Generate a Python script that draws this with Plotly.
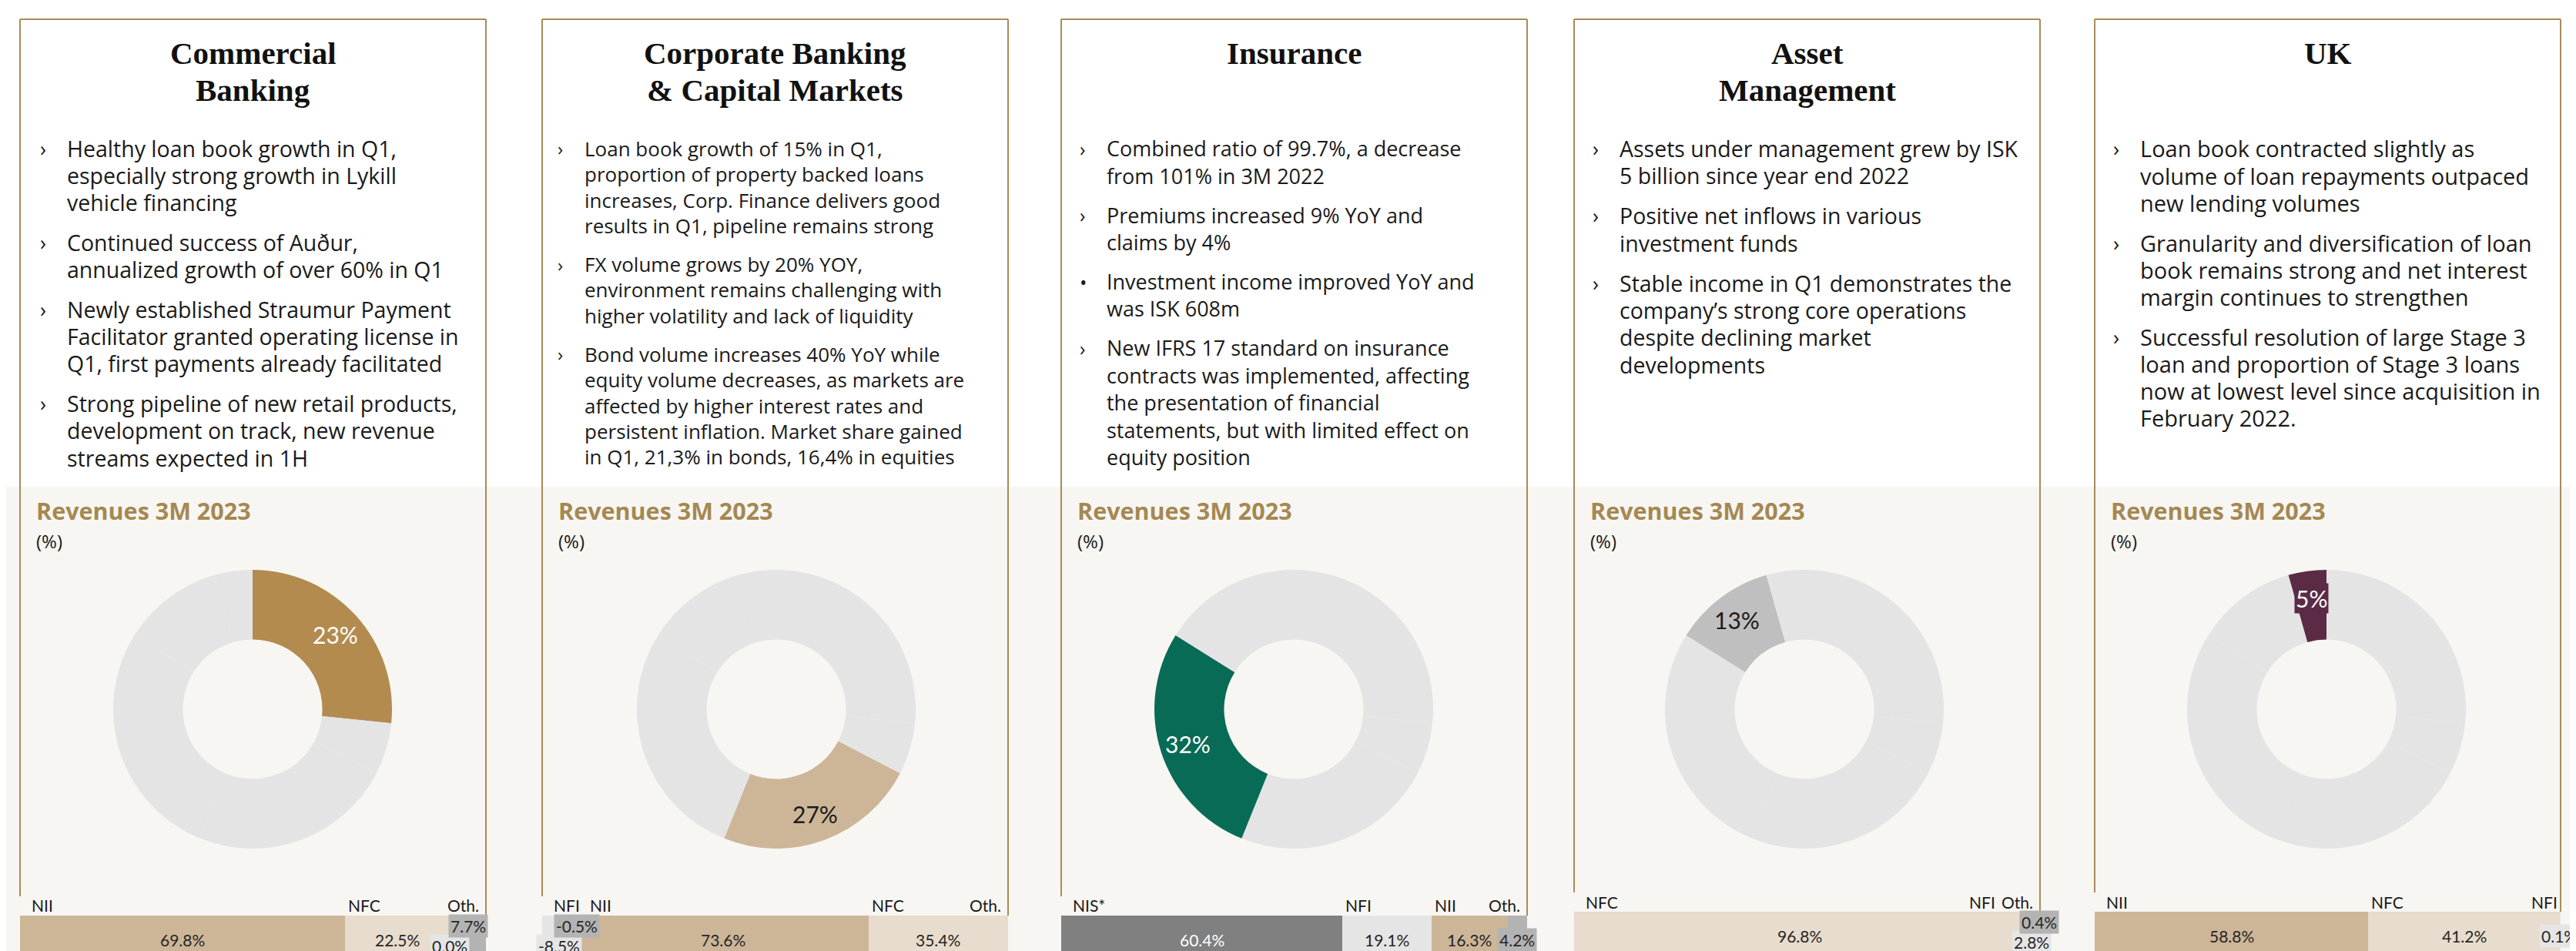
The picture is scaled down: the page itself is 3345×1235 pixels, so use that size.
import math
import plotly.graph_objects as go

W, H = 3345, 1235

# ---- data ----
titles = [
    ["Commercial", "Banking"],
    ["Corporate Banking", "& Capital Markets"],
    ["Insurance"],
    ["Asset", "Management"],
    ["UK"],
]

bullets_commercial = [
    ["Healthy loan book growth in Q1,", "especially strong growth in Lykill", "vehicle financing"],
    ["Continued success of Auður,", "annualized growth of over 60% in Q1"],
    ["Newly established Straumur Payment", "Facilitator granted operating license in",
     "Q1, first payments already facilitated"],
    ["Strong pipeline of new retail products,", "development on track, new revenue",
     "streams expected in 1H"],
]
bullets_corporate = [
    ["Loan book growth of 15% in Q1,", "proportion of property backed loans",
     "increases, Corp. Finance delivers good", "results in Q1, pipeline remains strong"],
    ["FX volume grows by 20% YOY,", "environment remains challenging with",
     "higher volatility and lack of liquidity"],
    ["Bond volume increases 40% YoY while", "equity volume decreases, as markets are",
     "affected by higher interest rates and", "persistent inflation. Market share gained",
     "in Q1, 21,3% in bonds, 16,4% in equities"],
]
bullets_insurance = [
    ["Combined ratio of 99.7%, a decrease", "from 101% in 3M 2022"],
    ["Premiums increased 9% YoY and", "claims by 4%"],
    ["Investment income improved YoY and", "was ISK 608m"],
    ["New IFRS 17 standard on insurance", "contracts was implemented, affecting",
     "the presentation of financial", "statements, but with limited effect on",
     "equity position"],
]
bullets_asset = [
    ["Assets under management grew by ISK", "5 billion since year end 2022"],
    ["Positive net inflows in various", "investment funds"],
    ["Stable income in Q1 demonstrates the", "company\u2019s strong core operations",
     "despite declining market", "developments"],
]
bullets_uk = [
    ["Loan book contracted slightly as", "volume of loan repayments outpaced",
     "new lending volumes"],
    ["Granularity and diversification of loan", "book remains strong and net interest",
     "margin continues to strengthen"],
    ["Successful resolution of large Stage 3", "loan and proportion of Stage 3 loans",
     "now at lowest level since acquisition in", "February 2022."],
]
bullet_marks = [
    ["›", "›", "›", "›"],
    ["›", "›", "›"],
    ["›", "›", "•", "›"],
    ["›", "›", "›"],
    ["›", "›", "›"],
]

# revenue share donut (slices in drawing order, clockwise from 12 o'clock)
pie_segments = ["Commercial Banking", "Other", "Corporate Banking & CM",
                "Insurance", "Asset Management", "UK"]
pie_values = [26.6, 6.0, 23.5, 27.8, 11.7, 4.4]
pie_labels = ["23%", "27%", "32%", "13%", "5%"]
pie_highlight = [0, 2, 3, 4, 5]

# revenue split bars
bar_cats_commercial = ["NII", "NFC", "NFI", "Oth."]
bar_vals_commercial = [69.8, 22.5, 0.0, 7.7]
bar_cats_corporate = ["NFI", "NII", "NFC", "Oth."]
bar_vals_corporate = [-8.5, 73.6, 35.4, -0.5]
bar_cats_insurance = ["NIS*", "NFI", "NII", "Oth."]
bar_vals_insurance = [60.4, 19.1, 16.3, 4.2]
bar_cats_asset = ["NFC", "NFI", "Oth."]
bar_vals_asset = [96.8, 2.8, 0.4]
bar_cats_uk = ["NII", "NFC", "NFI"]
bar_vals_uk = [58.8, 41.2, 0.1]

# ---- styling ----
GOLD = "#a98b5a"
BAND = "#f7f6f2"
TXT = "#1a1a1a"
SANS = "Lato, 'Noto Sans', sans-serif"
BODY = "'Open Sans', 'Noto Sans', sans-serif"
SERIF = "'Liberation Serif', 'DejaVu Serif', serif"

cat_colors = {"NII": "#cdb697", "NFC": "#e7dccd", "NFI": "#e5e5e5",
              "Oth.": "#b3b3b3", "NIS*": "#808080"}
pie_colors = ["#b38b4f", "#cdb697", "#086b55", "#bfbfbf", "#5b2b46"]
pie_text_colors = ["white", TXT, "white", TXT, "white"]
PIE_REST = "#e4e4e4"

panel_left = [18, 696, 1370, 2036, 2712]
panel_w = 605
bar_top = [1181, 1181, 1181, 1176, 1176]
cat_label_y = [1167, 1167, 1167, 1163, 1163]
line_pitch = [35.2, 33.4, 35.4, 35.4, 35.2]
bullet_gap = [16.5, 16.5, 15.5, 16.5, 16.5]
body_size = [28.5, 26, 27, 28.5, 29]
text_dx = [59, 53, 57, 57, 57]
donut_cx_dx = [302, 304, 302, 299, 301]
donut_cy = 913
donut_r = 181

all_bullets = [bullets_commercial, bullets_corporate, bullets_insurance, bullets_asset, bullets_uk]
all_cats = [bar_cats_commercial, bar_cats_corporate, bar_cats_insurance, bar_cats_asset, bar_cats_uk]
all_vals = [bar_vals_commercial, bar_vals_corporate, bar_vals_insurance, bar_vals_asset, bar_vals_uk]


def px(x):
    return x / W


def py(y):
    return 1 - y / H


fig = go.Figure()
annotations = []
shapes = []

# background band behind the chart half
shapes.append(dict(type="rect", xref="paper", yref="paper", x0=0, x1=1,
                   y0=0, y1=py(624), fillcolor=BAND, line_width=0, layer="below"))


def ann(x, y, text, size, color=TXT, family=SANS, xanchor="left", **kw):
    annotations.append(dict(x=px(x), y=py(y), xref="paper", yref="paper", text=text,
                            showarrow=False, xanchor=xanchor, yanchor="middle",
                            font=dict(size=size, color=color, family=family), **kw))


for p in range(5):
    L = panel_left[p]
    R = L + panel_w
    # panel frame
    shapes.append(dict(type="line", xref="paper", yref="paper", x0=px(L), x1=px(R),
                       y0=py(17), y1=py(17), line=dict(color=GOLD, width=2)))
    shapes.append(dict(type="line", xref="paper", yref="paper", x0=px(L), x1=px(L),
                       y0=py(17), y1=py(bar_top[p] - 25), line=dict(color=GOLD, width=2)))
    shapes.append(dict(type="line", xref="paper", yref="paper", x0=px(R), x1=px(R),
                       y0=py(17), y1=py(bar_top[p]), line=dict(color=GOLD, width=2)))

    # title
    for k, t in enumerate(titles[p]):
        ann(L + panel_w / 2, 61 + 48 * k, f"<b>{t}</b>", 41, color="#111111",
            family=SERIF, xanchor="center")

    # bullets
    y = 185
    for b, lines in enumerate(all_bullets[p]):
        ann(L + text_dx[p] - 35, y, bullet_marks[p][b], body_size[p] - 2, family=BODY)
        for line in lines:
            ann(L + text_dx[p], y, line, body_size[p], family=BODY)
            y += line_pitch[p]
        y += bullet_gap[p]

    # chart header
    ann(L + 19, 655, "<b>Revenues 3M 2023</b>", 30.5, color="#a58852", family=BODY)
    ann(L + 19, 694, "(%)", 24, family=BODY)

    # donut
    cx = L + donut_cx_dx[p]
    hi = pie_highlight[p]
    fig.add_trace(go.Pie(
        values=pie_values, labels=pie_segments, sort=False, direction="clockwise",
        rotation=0, hole=0.5, textinfo="none", hoverinfo="skip", showlegend=False,
        marker=dict(colors=[pie_colors[p] if i == hi else PIE_REST for i in range(len(pie_values))],
                    line=dict(width=0)),
        domain=dict(x=[px(cx - donut_r), px(cx + donut_r)],
                    y=[py(donut_cy + donut_r), py(donut_cy - donut_r)]),
    ))
    start = sum(pie_values[:hi])
    theta = 2 * math.pi * (start + pie_values[hi] / 2) / sum(pie_values)
    rr = 145
    extra = dict(bgcolor=pie_colors[p], borderpad=1) if pie_values[hi] < 6 else {}
    ann(cx + rr * math.sin(theta), donut_cy - rr * math.cos(theta), pie_labels[p], 30,
        color=pie_text_colors[p], xanchor="center", **extra)

    # split bar
    cats, vals = all_cats[p], all_vals[p]
    n = p + 1
    xa, ya = ("x" if n == 1 else f"x{n}"), ("y" if n == 1 else f"y{n}")
    order = [i for i, v in enumerate(vals) if v >= 0] + \
            [i for i in reversed(range(len(vals))) if vals[i] < 0]
    pos, neg, bounds = 0.0, 0.0, {}
    for i in order:
        v = vals[i]
        if v >= 0:
            bounds[i] = (pos, pos + v)
            pos += v
        else:
            bounds[i] = (neg + v, neg)
            neg += v
        fig.add_trace(go.Bar(x=[v], y=[0], orientation="h", width=1,
                             marker=dict(color=cat_colors[cats[i]], line=dict(width=0)),
                             xaxis=xa, yaxis=ya, showlegend=False, hoverinfo="skip"))
    span = pos - neg
    fig.update_layout({
        ("xaxis" if n == 1 else f"xaxis{n}"): dict(domain=[px(L), px(R)], range=[neg, pos],
                                                   visible=False, fixedrange=True),
        ("yaxis" if n == 1 else f"yaxis{n}"): dict(domain=[0, py(bar_top[p])], range=[-0.37, 0.5],
                                                   visible=False, fixedrange=True),
    })

    def to_px(u):
        return L + (u - neg) / span * panel_w

    # category labels above the bar
    items = []
    for i, c in enumerate(cats):
        if abs(vals[i]) < 0.05:
            continue
        l, r = to_px(bounds[i][0]), to_px(bounds[i][1])
        items.append(dict(text=c, l=l, small=(r - l) / panel_w < 0.03, w=11.5 * len(c)))
    prev_right = None
    for k, it in enumerate(items):
        if it["small"]:
            continue
        left = it["l"] + (13 if k == 0 else 2)
        if prev_right is not None:
            left = max(left, prev_right + 12)
        it["left"] = left
        prev_right = left + it["w"]
    limit = R - 6
    for it in reversed(items):
        right = limit if it["small"] else min(it["left"] + it["w"], limit)
        it["left"] = right - it["w"]
        limit = it["left"] - 8
        ann(it["left"], cat_label_y[p], it["text"], 21)

    # value labels in the bar
    small = [i for i in range(len(vals)) if abs(bounds[i][1] - bounds[i][0]) / span < 0.10]
    for i, v in enumerate(vals):
        mid = min(to_px((bounds[i][0] + bounds[i][1]) / 2), W - 30)
        yv = bar_top[p] + 31
        extra = {}
        if i in small:
            extra = dict(bgcolor=cat_colors[cats[i]], borderpad=2)
            if len(small) >= 2:
                yv = bar_top[p] + (39 if small.index(i) == 0 else 13)
        ann(mid, yv, f"{v:.1f}%", 21, color="white" if cats[i] == "NIS*" else "#262626",
            xanchor="center", **extra)

fig.update_layout(
    width=W, height=H, margin=dict(l=0, r=0, t=0, b=0),
    paper_bgcolor="white", plot_bgcolor="rgba(0,0,0,0)",
    barmode="relative", bargap=0,
    annotations=annotations, shapes=shapes,
)

fig.write_html("out.html")
